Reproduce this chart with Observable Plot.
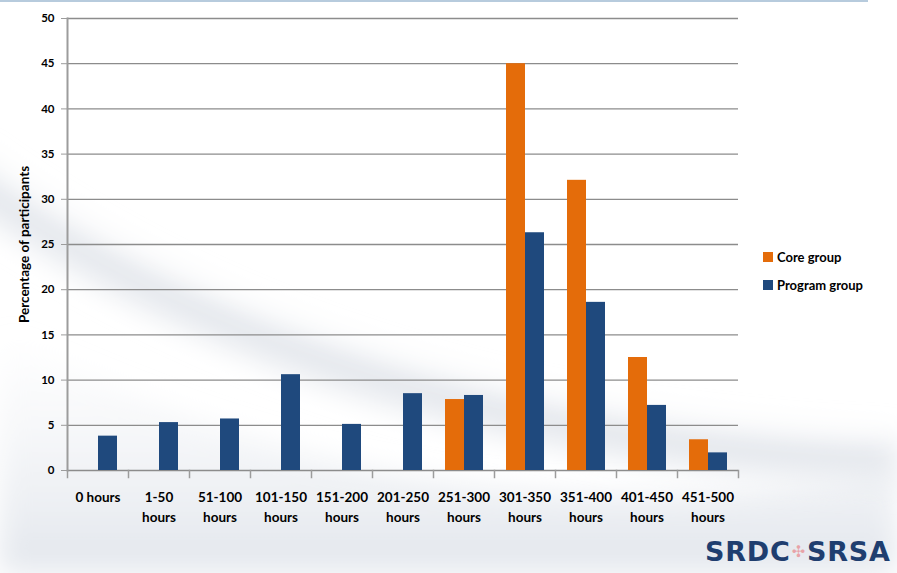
<!DOCTYPE html>
<html>
<head>
<meta charset="utf-8">
<script src="https://cdn.jsdelivr.net/npm/d3@7"></script>
<script src="https://cdn.jsdelivr.net/npm/@observablehq/plot@0.6"></script>
<style>
  html, body { margin: 0; padding: 0; background: #fff; }
  #wrap { position: relative; width: 897px; height: 573px; font-family: Lato, sans-serif; }
  #bg { position: absolute; left: 0; top: 0; }
  #chart { position: relative; }
  #chart svg { display: block; }
  #topline { position: absolute; left: 0; top: 0; width: 868px; height: 2px; background: #b7cbdd; }
  #legend { position: absolute; left: 763px; top: 243px; font-size: 13px; font-weight: bold; color: #000; }
  #legend .item { display: flex; align-items: center; height: 28px; white-space: nowrap; }
  #legend .sw { width: 10px; height: 10px; margin-right: 4px; }
  #logo { position: absolute; left: 705px; top: 536px; font-family: "DejaVu Sans", sans-serif;
          font-size: 27px; font-weight: bold; color: #1f3e6f; letter-spacing: 0.8px;
          white-space: nowrap; line-height: 32px; }
  #logo .leaf { color: #e8a3a8; font-size: 16px; margin: 0 1px; vertical-align: 4px; }
</style>
</head>
<body>
<div id="wrap">
  <svg id="bg" width="897" height="573">
    <defs>
      <filter id="soft" x="-20%" y="-20%" width="140%" height="140%"><feGaussianBlur stdDeviation="14"/></filter>
      <linearGradient id="floor" x1="0" y1="0" x2="0" y2="1">
        <stop offset="0" stop-color="#eef0f4" stop-opacity="0"/>
        <stop offset="1" stop-color="#e2e6ec"/>
      </linearGradient>
    </defs>
    <path d="M0 330 Q 420 560 897 470 L 897 573 L 0 573 Z" fill="url(#floor)" filter="url(#soft)"/>
    <path d="M -40 170 Q 330 440 897 460" fill="none" stroke="#e6e9ee" stroke-width="46" filter="url(#soft)"/>
    <path d="M -40 135 Q 330 405 897 425" fill="none" stroke="#ffffff" stroke-width="16" filter="url(#soft)"/>
  </svg>
  <div id="topline"></div>
  <div id="chart"></div>
  <div id="legend"></div>
  <div id="logo">SRDC<span class="leaf">✣</span>SRSA</div>
</div>
<script>
// Hours of participation, share of participants (%) per group
const categories = ["0 hours", "1-50 hours", "51-100 hours", "101-150 hours", "151-200 hours",
  "201-250 hours", "251-300 hours", "301-350 hours", "351-400 hours", "401-450 hours", "451-500 hours"];
const series = ["Core group", "Program group"];
const coreValues = [null, null, null, null, null, null, 7.85, 45.0, 32.1, 12.5, 3.4];
const programValues = [3.8, 5.3, 5.7, 10.6, 5.1, 8.5, 8.3, 26.3, 18.6, 7.2, 1.95];
const seriesColors = ["#E46C0A", "#1F497D"];
const yTicks = [0, 5, 10, 15, 20, 25, 30, 35, 40, 45, 50];
const yTitle = "Percentage of participants";

const rows = [];
categories.forEach((category, i) => {
  [coreValues, programValues].forEach((values, s) => {
    if (values[i] != null) rows.push({category, series: series[s], value: values[i]});
  });
});

const width = 897, height = 573;
const marginTop = 18, marginBottom = 103, marginLeft = 63, marginRight = 155;
const innerHeight = height - marginTop - marginBottom;
const gridGray = "#8c8c8c";
const axisGray = "#9c9c9c";

const chart = Plot.plot({
  width, height, marginTop, marginBottom, marginLeft, marginRight,
  style: {background: "transparent", fontFamily: "Lato, sans-serif", fontWeight: "bold", color: "#000"},
  fx: {domain: categories, padding: 0, label: null, axis: null},
  x: {domain: series, paddingInner: 0, paddingOuter: 0.6, axis: null},
  y: {domain: [0, 50], label: null, axis: null},
  color: {domain: series, range: seriesColors},
  marks: [
    Plot.gridY(yTicks, {stroke: gridGray, strokeOpacity: 1, strokeWidth: 1.3}),
    Plot.barY(rows, {fx: "category", x: "series", y: "value", fill: "series"}),
    // vertical value axis line
    Plot.frame({anchor: "left", facetAnchor: "left", stroke: axisGray, strokeWidth: 2}),
    // category separator ticks below the baseline
    Plot.frame({anchor: "left", insetTop: innerHeight, insetBottom: -7, stroke: axisGray, strokeWidth: 1.5}),
    Plot.frame({anchor: "right", facetAnchor: "right", insetTop: innerHeight, insetBottom: -7, stroke: axisGray, strokeWidth: 1.5}),
    Plot.axisY({ticks: yTicks, tickSize: 6, tickPadding: 7, fontSize: 11.5, stroke: axisGray,
                fill: "#000", label: null}),
    Plot.text([yTitle], {frameAnchor: "left", facetAnchor: "left", rotate: -90, dx: -43,
                         textAnchor: "middle", fontSize: 13.5, fontWeight: "bold", fill: "#000"}),
    Plot.axisFx({anchor: "bottom", tickSize: 0, tickPadding: 18, fontSize: 13.5, lineHeight: 1.43,
                 fill: "#000", label: null,
                 tickFormat: d => d === "0 hours" ? d : d.replace(" ", "\n")})
  ]
});
document.getElementById("chart").appendChild(chart);

const legend = document.getElementById("legend");
series.forEach((name, i) => {
  const item = document.createElement("div");
  item.className = "item";
  const sw = document.createElement("span");
  sw.className = "sw";
  sw.style.background = seriesColors[i];
  const label = document.createElement("span");
  label.textContent = name;
  item.append(sw, label);
  legend.appendChild(item);
});
</script>
</body>
</html>
